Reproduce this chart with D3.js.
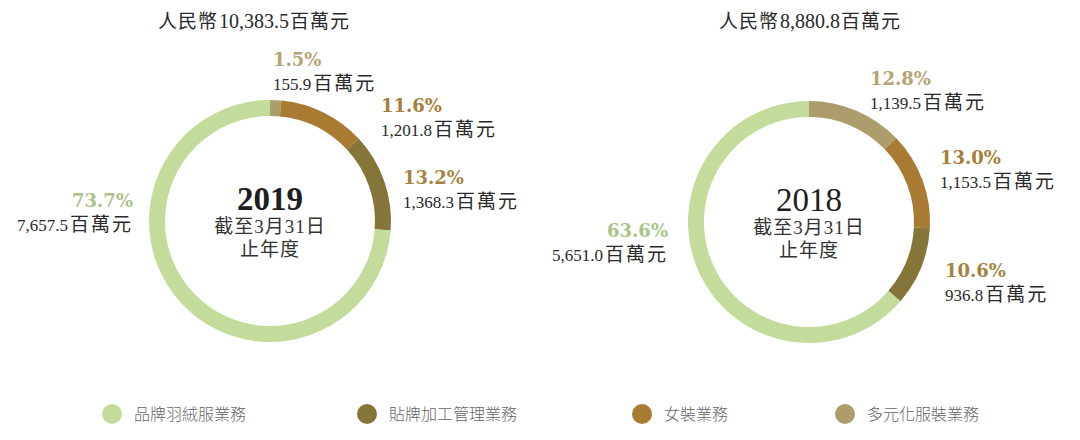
<!DOCTYPE html>
<html>
<head>
<meta charset="utf-8">
<script src="https://cdn.jsdelivr.net/npm/d3@7"></script>
<style>
  html, body { margin: 0; padding: 0; background: #fff; }
  svg { display: block; }
</style>
</head>
<body>
<svg id="chart" width="1080" height="440"></svg>
<script>
// ---- data ----
const categories = ["多元化服裝業務", "女裝業務", "貼牌加工管理業務", "品牌羽絨服業務"];
const legendOrder = ["品牌羽絨服業務", "貼牌加工管理業務", "女裝業務", "多元化服裝業務"];
const years = ["2019", "2018"];
const totals = ["10,383.5", "8,880.8"];
const values2019 = [155.9, 1201.8, 1368.3, 7657.5];
const values2018 = [1139.5, 1153.5, 936.8, 5651.0];
const pct2019 = ["1.5%", "11.6%", "13.2%", "73.7%"];
const pct2018 = ["12.8%", "13.0%", "10.6%", "63.6%"];
const valueLabels2019 = ["155.9", "1,201.8", "1,368.3", "7,657.5"];
const valueLabels2018 = ["1,139.5", "1,153.5", "936.8", "5,651.0"];
const subtitleLines = ["截至3月31日", "止年度"];
const unit = "百萬元";
const currency = "人民幣";

// ---- styles / layout ----
const ringColors = {
  "品牌羽絨服業務": "#c4dc9b",
  "貼牌加工管理業務": "#857538",
  "女裝業務": "#a87a32",
  "多元化服裝業務": "#ad9d6d"
};
const pctColors = {
  "品牌羽絨服業務": "#a9c489",
  "貼牌加工管理業務": "#a6843f",
  "女裝業務": "#a67e38",
  "多元化服裝業務": "#b3a474"
};
const serif = "'Liberation Serif', 'Noto Sans CJK TC', serif";
const serifWide = "'DejaVu Serif', 'Liberation Serif', serif";
const sans = "'Noto Sans CJK TC', 'Noto Sans', sans-serif";

const donuts = [
  { cx: 270, cy: 221, titleX: 158, bold: true,
    // label offsets relative to centre: [dx, dy of pct baseline, anchor]
    labels: [[3, -154, "start"], [111, -108, "start"], [133, -36, "start"], [-137, -13, "end"]] },
  { cx: 809, cy: 222, titleX: 719, bold: false,
    labels: [[61, -136, "start"], [131, -57, "start"], [136, 56, "start"], [-141, 16, "end"]] }
];
const series = [
  { values: values2019, pcts: pct2019, vlabels: valueLabels2019 },
  { values: values2018, pcts: pct2018, vlabels: valueLabels2018 }
];

const outerR = 121, innerR = 105;
const svg = d3.select("#chart");

const pie = d3.pie().sort(null).value(d => d.value).startAngle(0).endAngle(2 * Math.PI);
const arc = d3.arc().innerRadius(innerR).outerRadius(outerR);

function numberUnit(sel, num, numSize, unitSize) {
  sel.append("tspan").attr("font-size", numSize).text(num);
  sel.append("tspan").attr("font-size", unitSize).attr("dx", 2)
    .attr("letter-spacing", 2).text(unit);
}

years.forEach((yr, i) => {
  const L = donuts[i];
  const S = series[i];
  const data = categories.map((c, k) => ({ cat: c, value: S.values[k], pct: S.pcts[k], vl: S.vlabels[k] }));
  const g = svg.append("g").attr("transform", `translate(${L.cx},${L.cy})`);

  g.selectAll("path")
    .data(pie(data))
    .join("path")
    .attr("d", arc)
    .attr("fill", d => ringColors[d.data.cat]);

  // title
  const t = svg.append("text")
    .attr("x", L.titleX).attr("y", 28)
    .attr("font-family", serif).attr("fill", "#2a2a2a");
  t.append("tspan").attr("font-size", 19).attr("letter-spacing", 1).text(currency);
  t.append("tspan").attr("font-size", 20).attr("dx", 1).text(totals[i]);
  t.append("tspan").attr("font-size", 19).attr("dx", 1).attr("letter-spacing", 1).text(unit);

  // centre text
  g.append("text")
    .attr("text-anchor", "middle").attr("y", -11)
    .attr("font-family", serif).attr("font-size", 33)
    .attr("font-weight", L.bold ? "bold" : "normal").attr("fill", "#1e1e1e")
    .text(yr);
  subtitleLines.forEach((s, j) => {
    g.append("text")
      .attr("text-anchor", "middle").attr("y", 12 + j * 23)
      .attr("font-family", serif).attr("font-size", 19).attr("letter-spacing", 1)
      .attr("fill", "#333")
      .text(s);
  });

  // labels
  data.forEach((d, k) => {
    const [dx, dy, anchor] = L.labels[k];
    g.append("text")
      .attr("x", dx).attr("y", dy - 1).attr("text-anchor", anchor)
      .attr("font-family", serifWide).attr("font-size", 18).attr("font-weight", "bold")
      .attr("fill", pctColors[d.cat])
      .text(d.pct);
    const v = g.append("text")
      .attr("x", dx).attr("y", dy + 23).attr("text-anchor", anchor)
      .attr("font-family", serif).attr("fill", "#2a2a2a");
    numberUnit(v, d.vl, 17, 19);
  });
});

// legend
const legendPos = { "品牌羽絨服業務": 112, "貼牌加工管理業務": 367, "女裝業務": 642, "多元化服裝業務": 845 };
const lg = svg.append("g").selectAll("g").data(legendOrder).join("g")
  .attr("transform", d => `translate(${legendPos[d]},414)`);
lg.append("circle").attr("r", 10).attr("fill", d => ringColors[d]);
lg.append("text")
  .attr("x", 22).attr("y", 6)
  .attr("font-family", sans).attr("font-size", 16).attr("font-weight", 300)
  .attr("fill", "#666")
  .text(d => d);
</script>
</body>
</html>
